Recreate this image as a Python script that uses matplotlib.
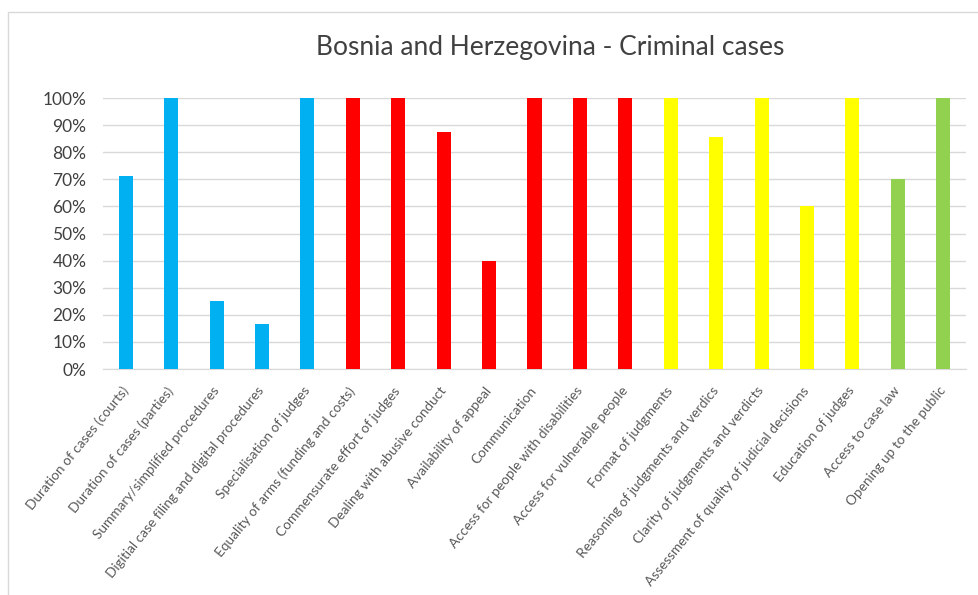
import matplotlib
matplotlib.use("Agg")
from matplotlib import pyplot as plt
from matplotlib.ticker import FuncFormatter
from matplotlib.patches import Rectangle

categories = [
    "Duration of cases (courts)",
    "Duration of cases (parties)",
    "Summary/simplified procedures",
    "Digitial case filing and digital procedures",
    "Specialisation of judges",
    "Equality of arms (funding and costs)",
    "Commensurate effort of judges",
    "Dealing with abusive conduct",
    "Availability of appeal",
    "Communication",
    "Access for people with disabilities",
    "Access for vulnerable people",
    "Format of judgments",
    "Reasoning of judgments and verdics",
    "Clarity of judgments and verdicts",
    "Assessment of quality of judicial decisions",
    "Education of judges",
    "Access to case law",
    "Opening up to the public",
]
values = [0.714, 1.0, 0.25, 0.167, 1.0, 1.0, 1.0, 0.875, 0.40, 1.0,
          1.0, 1.0, 1.0, 0.857, 1.0, 0.60, 1.0, 0.70, 1.0]
groups = ["blue"] * 5 + ["red"] * 7 + ["yellow"] * 5 + ["green"] * 2
palette = {"blue": "#00B0F0", "red": "#FF0000",
           "yellow": "#FFFF00", "green": "#92D050"}


def main():
    plt.rcParams['font.family'] = ['Lato', 'DejaVu Sans']
    fig = plt.figure(figsize=(9.79, 5.95), dpi=100)
    # light frame around the chart area
    fig.patches.append(Rectangle((8 / 979, -0.1), 1.1, 1.1 - 12 / 595,
                                 transform=fig.transFigure, fill=False,
                                 edgecolor="#D9D9D9", linewidth=1))
    ax = fig.add_axes([103 / 979, 1 - 369 / 595, 863 / 979, 271 / 595])

    x = range(len(categories))
    ax.bar(x, values, width=0.31, color=[palette[g] for g in groups],
           zorder=3)

    ax.set_xlim(-0.5, len(categories) - 0.5)
    ax.set_ylim(0, 1.0)
    ax.set_yticks([i / 10 for i in range(11)])
    ax.yaxis.set_major_formatter(FuncFormatter(lambda v, p: f"{v * 100:.0f}%"))
    ax.yaxis.grid(True, color="#D9D9D9", linewidth=1, zorder=0)
    ax.set_xticks(list(x))
    ax.set_xticklabels(categories, rotation=51, ha="right", va="center",
                       rotation_mode="anchor", fontsize=9.8, color="#595959")
    ax.tick_params(axis="y", labelsize=12.5, colors="#404040", length=0, pad=12)
    ax.tick_params(axis="x", length=0, pad=14)
    for s in ["top", "right", "left"]:
        ax.spines[s].set_visible(False)
    ax.spines["bottom"].set_color("#D9D9D9")

    fig.text(550 / 979, 1 - 47 / 595, "Bosnia and Herzegovina - Criminal cases",
             ha="center", va="center", fontsize=19, color="#404040")

    fig.savefig("out.png", dpi=100)


if __name__ == '__main__':
    main()
